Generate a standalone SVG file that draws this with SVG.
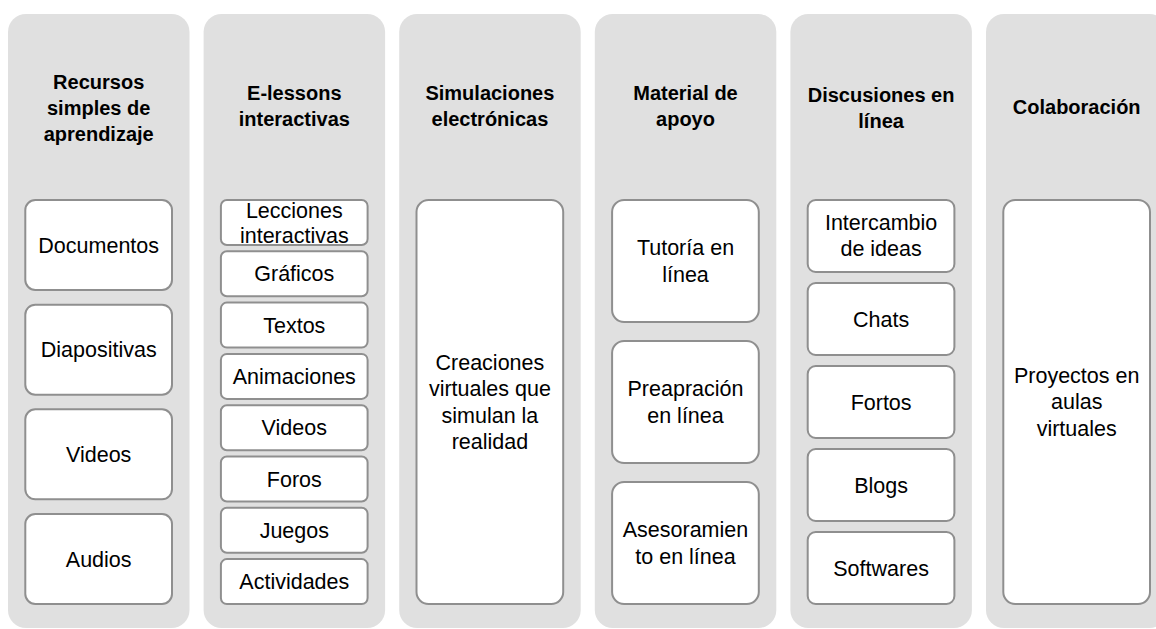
<svg xmlns="http://www.w3.org/2000/svg" width="1156" height="629" viewBox="0 0 1156 629">
<style>
.col{fill:#e0e0e0;stroke:none}
.box{fill:#ffffff;stroke:#8f8f8f;stroke-width:2}
.h{font-family:"Liberation Sans",Arial,sans-serif;font-weight:bold;font-size:20px;fill:#000;text-anchor:middle}
.t{font-family:"Liberation Sans",Arial,sans-serif;font-size:21.5px;fill:#000;text-anchor:middle}
</style>
<rect width="1156" height="629" fill="#ffffff"/>
<g id="col1">
<rect class="col" x="8" y="14" width="181.5" height="614" rx="18"/>
<text class="h" x="98.7"><tspan x="98.7" y="89">Recursos</tspan><tspan x="98.7" y="115">simples de</tspan><tspan x="98.7" y="141">aprendizaje</tspan></text>
<g id="n1a"><rect class="box" x="25.3" y="200" width="146.7" height="90" rx="10"/><text class="t" x="98.7" y="252.5">Documentos</text></g>
<g id="n1b"><rect class="box" x="25.3" y="304.7" width="146.7" height="90" rx="10"/><text class="t" x="98.7" y="357.2">Diapositivas</text></g>
<g id="n1c"><rect class="box" x="25.3" y="409.3" width="146.7" height="90" rx="10"/><text class="t" x="98.7" y="461.8">Videos</text></g>
<g id="n1d"><rect class="box" x="25.3" y="514" width="146.7" height="90" rx="10"/><text class="t" x="98.7" y="566.5">Audios</text></g>
</g>
<g id="col2">
<rect class="col" x="203.6" y="14" width="181.5" height="614" rx="18"/>
<text class="h"><tspan x="294.3" y="100">E-lessons</tspan><tspan x="294.3" y="126">interactivas</tspan></text>
<g id="n2a"><rect class="box" x="220.9" y="200" width="146.7" height="45" rx="6"/><text class="t"><tspan x="294.3" y="217.5">Lecciones</tspan><tspan x="294.3" y="242.5">interactivas</tspan></text></g>
<g id="n2b"><rect class="box" x="220.9" y="251.3" width="146.7" height="45" rx="6"/><text class="t" x="294.3" y="281.3">Gráficos</text></g>
<g id="n2c"><rect class="box" x="220.9" y="302.6" width="146.7" height="45" rx="6"/><text class="t" x="294.3" y="332.6">Textos</text></g>
<g id="n2d"><rect class="box" x="220.9" y="353.9" width="146.7" height="45" rx="6"/><text class="t" x="294.3" y="383.9">Animaciones</text></g>
<g id="n2e"><rect class="box" x="220.9" y="405.2" width="146.7" height="45" rx="6"/><text class="t" x="294.3" y="435.2">Videos</text></g>
<g id="n2f"><rect class="box" x="220.9" y="456.5" width="146.7" height="45" rx="6"/><text class="t" x="294.3" y="486.5">Foros</text></g>
<g id="n2g"><rect class="box" x="220.9" y="507.8" width="146.7" height="45" rx="6"/><text class="t" x="294.3" y="537.8">Juegos</text></g>
<g id="n2h"><rect class="box" x="220.9" y="559.1" width="146.7" height="45" rx="6"/><text class="t" x="294.3" y="589.1">Actividades</text></g>
</g>
<g id="col3">
<rect class="col" x="399.2" y="14" width="181.5" height="614" rx="18"/>
<text class="h"><tspan x="489.9" y="100">Simulaciones</tspan><tspan x="489.9" y="126">electrónicas</tspan></text>
<g id="n3a"><rect class="box" x="416.5" y="200" width="146.7" height="404" rx="12"/><text class="t"><tspan x="489.9" y="369.5">Creaciones</tspan><tspan x="489.9" y="396">virtuales que</tspan><tspan x="489.9" y="422.5">simulan la</tspan><tspan x="489.9" y="449">realidad</tspan></text></g>
</g>
<g id="col4">
<rect class="col" x="594.8" y="14" width="181.5" height="614" rx="18"/>
<text class="h"><tspan x="685.5" y="100">Material de</tspan><tspan x="685.5" y="126">apoyo</tspan></text>
<g id="n4a"><rect class="box" x="612.1" y="200" width="146.7" height="122" rx="12"/><text class="t"><tspan x="685.5" y="255">Tutoría en</tspan><tspan x="685.5" y="282">línea</tspan></text></g>
<g id="n4b"><rect class="box" x="612.1" y="341" width="146.7" height="122" rx="12"/><text class="t"><tspan x="685.5" y="396">Preapración</tspan><tspan x="685.5" y="423">en línea</tspan></text></g>
<g id="n4c"><rect class="box" x="612.1" y="482" width="146.7" height="122" rx="12"/><text class="t"><tspan x="685.5" y="537">Asesoramien</tspan><tspan x="685.5" y="564">to en línea</tspan></text></g>
</g>
<g id="col5">
<rect class="col" x="790.4" y="14" width="181.5" height="614" rx="18"/>
<text class="h"><tspan x="881.1" y="102">Discusiones en</tspan><tspan x="881.1" y="128">línea</tspan></text>
<g id="n5a"><rect class="box" x="807.7" y="200" width="146.7" height="72" rx="8"/><text class="t"><tspan x="881.1" y="230">Intercambio</tspan><tspan x="881.1" y="256">de ideas</tspan></text></g>
<g id="n5b"><rect class="box" x="807.7" y="283" width="146.7" height="72" rx="8"/><text class="t" x="881.1" y="326.5">Chats</text></g>
<g id="n5c"><rect class="box" x="807.7" y="366" width="146.7" height="72" rx="8"/><text class="t" x="881.1" y="409.5">Fortos</text></g>
<g id="n5d"><rect class="box" x="807.7" y="449" width="146.7" height="72" rx="8"/><text class="t" x="881.1" y="492.5">Blogs</text></g>
<g id="n5e"><rect class="box" x="807.7" y="532" width="146.7" height="72" rx="8"/><text class="t" x="881.1" y="575.5">Softwares</text></g>
</g>
<g id="col6">
<rect class="col" x="986" y="14" width="181.5" height="614" rx="18"/>
<text class="h" x="1076.7" y="114">Colaboración</text>
<g id="n6a"><rect class="box" x="1003.3" y="200" width="146.7" height="404" rx="12"/><text class="t"><tspan x="1076.7" y="382.5">Proyectos en</tspan><tspan x="1076.7" y="409">aulas</tspan><tspan x="1076.7" y="435.5">virtuales</tspan></text></g>
</g>
<g id="connectors"/>
</svg>
